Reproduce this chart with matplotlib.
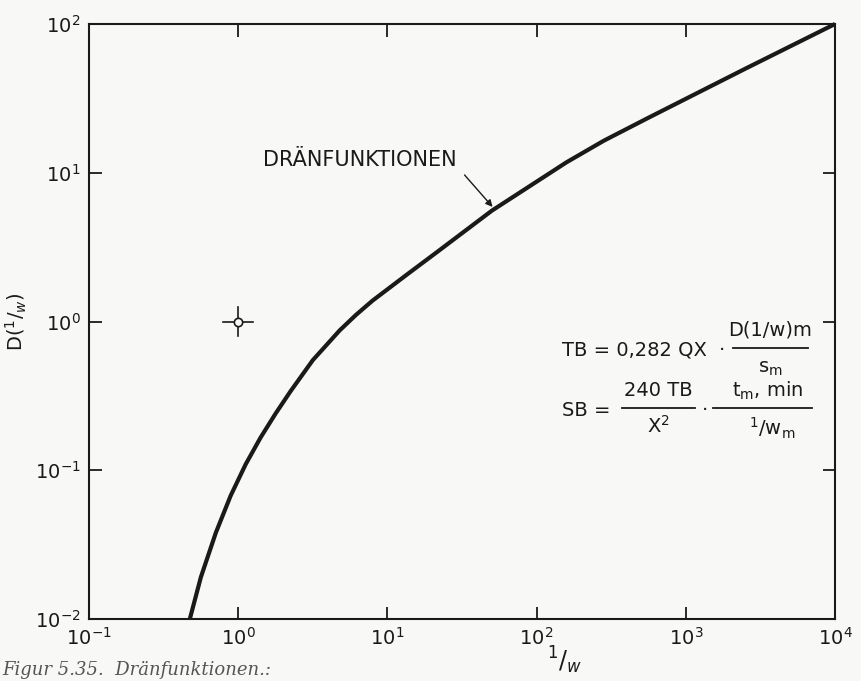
import numpy as np
import matplotlib
matplotlib.use('Agg')
import matplotlib.pyplot as plt

dran_x = [0.474, 0.562, 0.708, 0.891, 1.122, 1.413, 1.778, 2.239, 3.162, 4.786, 6.166,
          7.943, 13.49, 21.38, 50.12, 158.5, 281.8, 562.3, 2512, 10000]
dran_y = [0.0100, 0.0191, 0.0380, 0.0676, 0.1096, 0.1660, 0.2399, 0.3388, 0.5495, 0.871, 1.109,
          1.380, 2.065, 2.917, 5.559, 11.75, 16.41, 23.44, 50.12, 100.0]

# Bezugspunkt (1/w = 1, D = 1)
ref_x = [1.0]
ref_y = [1.0]

x_ticks = [1e-1, 1e0, 1e1, 1e2, 1e3, 1e4]
x_labels = ['$10^{-1}$', '$10^{0}$', '$10^{1}$', '$10^{2}$', '$10^{3}$', '$10^{4}$']
y_ticks = [1e-2, 1e-1, 1e0, 1e1, 1e2]
y_labels = ['$10^{-2}$', '$10^{-1}$', '$10^{0}$', '$10^{1}$', '$10^{2}$']

plt.rcParams['font.family'] = ['DejaVu Sans']
plt.rcParams['mathtext.fontset'] = 'dejavusans'

ink = '#1a1a1a'
paper = '#f8f8f6'

fig = plt.figure(figsize=(8.61, 6.81), dpi=100, facecolor=paper)
ax = fig.add_axes([89 / 861, 1 - 619 / 681, (835 - 89) / 861, (619 - 24) / 681])
ax.set_facecolor(paper)

ax.plot(dran_x, dran_y, color=ink, lw=3.0, solid_joinstyle='round',
        solid_capstyle='butt', clip_on=False)

# Bezugspunkt mit Fadenkreuz
for px, py in zip(ref_x, ref_y):
    ax.plot([px / 10 ** 0.1, px * 10 ** 0.1], [py, py], color=ink, lw=1.2)
    ax.plot([px, px], [py / 10 ** 0.1, py * 10 ** 0.1], color=ink, lw=1.2)
    ax.plot(px, py, 'o', ms=6, mfc=paper, mec=ink, mew=1.2)

ax.set_xscale('log')
ax.set_yscale('log')
ax.set_xlim(1e-1, 1e4)
ax.set_ylim(1e-2, 1e2)
ax.set_xticks(x_ticks)
ax.set_xticklabels(x_labels)
ax.set_yticks(y_ticks)
ax.set_yticklabels(y_labels)
ax.minorticks_off()
ax.tick_params(which='major', direction='in', length=9, width=1.3, color=ink,
               top=True, right=True, labelsize=14, labelcolor=ink, pad=6)
for s in ax.spines.values():
    s.set_linewidth(1.5)
    s.set_color(ink)

ax.set_ylabel(r'D($^{1}/_{w}$)', fontsize=14, color=ink, labelpad=4)
fig.text(565 / 861, 1 - 660 / 681, r'$^{1}/_{w}$', fontsize=17, color=ink,
         ha='center', va='center')

# Beschriftung der Kurve
ax.text(6.5, 12.2, 'DRÄNFUNKTIONEN', fontsize=15, color=ink, ha='center', va='center')
ax.annotate('', xy=(50.7, 5.89), xytext=(32.9, 9.66),
            arrowprops=dict(arrowstyle='-|>', color=ink, lw=1.0,
                            shrinkA=0, shrinkB=0, mutation_scale=10))

# Formeln
def ftxt(x, y, s, **kw):
    fig.text(x / 861, 1 - y / 681, s, fontsize=14, color=ink, va='center', **kw)

def fbar(x0, x1, y):
    fig.add_artist(plt.Line2D([x0 / 861, x1 / 861], [1 - y / 681, 1 - y / 681],
                              color=ink, lw=1.3))

ftxt(562, 350, 'TB = 0,282 QX')
ftxt(722, 350, '·', ha='center')
ftxt(770, 330, 'D(1/w)m', ha='center')
fbar(733, 808, 348)
ftxt(770, 368, r's$_{\rm m}$', ha='center')

ftxt(562, 410, 'SB =')
ftxt(658, 391, '240 TB', ha='center')
fbar(622, 695, 408)
ftxt(658, 426, r'X$^2$', ha='center')
ftxt(705, 410, '·', ha='center')
ftxt(768, 391, r't$_{\rm m}$, min', ha='center')
fbar(713, 812, 408)
ftxt(772, 428, r'$^{1}/\mathrm{w}_{\rm m}$', ha='center')

# Bildunterschrift
fig.text(2 / 861, 1 - 670 / 681, 'Figur 5.35.  Dränfunktionen.:', fontsize=13,
         family='DejaVu Serif', style='italic', color='#555555', va='center')

fig.savefig('out.png', dpi=100, facecolor=paper)
